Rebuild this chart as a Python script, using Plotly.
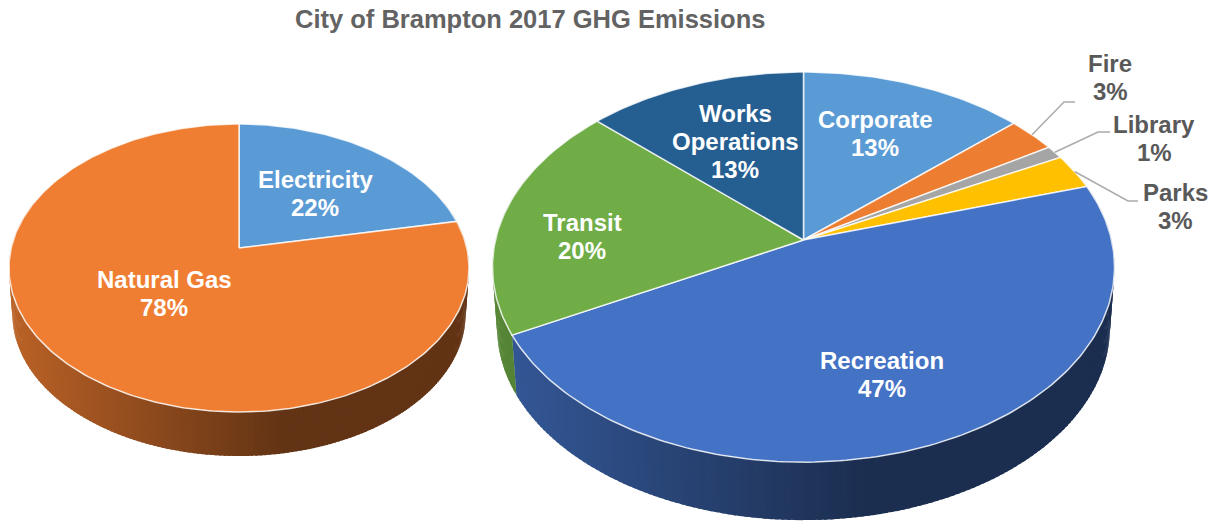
import math
import plotly.graph_objects as go

# Data (shares in %)
title_text = "City of Brampton 2017 GHG Emissions"
left_names = ["Electricity", "Natural Gas"]
left_values = [21.9, 78.1]
left_colors = ["#5B9BD5", "#F07E32"]
right_names = ["Corporate", "Fire", "Library", "Parks", "Recreation", "Transit", "Works<br>Operations"]
right_values = [13.4, 2.9, 1.1, 2.9, 47.0, 19.6, 13.1]
right_colors = ["#5B9BD5", "#ED7D31", "#A5A5A5", "#FFC000", "#4472C4", "#70AD47", "#255E91"]

# Layout of labels (pixel centres in the chart's axis space)
left_label_pos = [(315, 193), (164, 293)]
right_label_pos = [(875, 133), (1110, 77), (1154, 138), (1175, 206), (882, 374), (582, 236), (735, 141)]
right_label_col = ["white", "#595959", "#595959", "#595959", "white", "white", "white"]
leader_elbows = {1: [(1064, 102), (1075, 102)], 2: [(1098, 132), (1110, 132)], 3: [(1128, 201), (1138, 201)]}

K = 0.1389
LEFT = dict(cx=239, cy=248, a=227.8, b=141.2, depth=46.5, shrink=0.985)
RIGHT = dict(cx=803.5, cy=240, a=308.0, b=191.3, depth=61.3, shrink=0.985)
FONT = "Liberation Sans"
LABEL_SIZE = 24
LINE_PITCH = 28
W, H = 1215, 523


def rim(g, th, bottom=False):
    """Perspective projection of a point on the pie's circular rim; th clockwise from top."""
    u, v = math.sin(th), math.cos(th)
    w = 1 + K * v
    s = g["shrink"] if bottom else 1.0
    return g["cx"] + s * g["a"] * u / w, g["cy"] - s * g["b"] * v / w + (g["depth"] if bottom else 0)


def shade(hexcol, x, g):
    r, gg, b = int(hexcol[1:3], 16), int(hexcol[3:5], 16), int(hexcol[5:7], 16)
    rx = g["a"] / math.sqrt(1 - K * K)
    t = (x - (g["cx"] - rx)) / (2 * rx)
    f = 0.78 + (0.41 - 0.78) * min(t / 0.6, 1.0)
    return f"rgb({int(r*f)},{int(gg*f)},{int(b*f)})"


def add_pie(fig, g, names, values, colors):
    total = sum(values)
    edges = [0.0]
    for val in values:
        edges.append(edges[-1] + val / total * 2 * math.pi)
    wall_lo, wall_hi = math.radians(70), math.radians(290)
    step = math.radians(1.0)
    # side wall, in gradient strips; each strip runs under the next one so no seams show
    for i in range(len(values)):
        a0, a1 = max(edges[i], wall_lo), min(edges[i + 1], wall_hi)
        th = a0
        while th < a1 - 1e-9:
            th2 = min(th + step, a1)
            th3 = min(th2 + 0.6 * step, a1)
            p = [rim(g, th), rim(g, th3), rim(g, th3, True), rim(g, th, True), rim(g, th)]
            col = shade(colors[i], (rim(g, th)[0] + rim(g, th2)[0]) / 2, g)
            fig.add_trace(go.Scatter(x=[q[0] for q in p], y=[q[1] for q in p], mode="lines", fill="toself",
                                     fillcolor=col, line=dict(width=0), hoverinfo="skip",
                                     showlegend=False))
            th = th2
    # top faces
    for i, (n, val, c) in enumerate(zip(names, values, colors)):
        n_pts = max(4, int((edges[i + 1] - edges[i]) / math.radians(1)))
        pts = [(g["cx"], g["cy"])]
        for j in range(n_pts + 1):
            pts.append(rim(g, edges[i] + (edges[i + 1] - edges[i]) * j / n_pts))
        pts.append((g["cx"], g["cy"]))
        fig.add_trace(go.Scatter(x=[q[0] for q in pts], y=[q[1] for q in pts], mode="lines", fill="toself",
                                 fillcolor=c, line=dict(color="rgba(255,255,255,0.8)", width=1.5),
                                 name=n.replace("<br>", " "), text=f"{val:.0f}%", hoverinfo="name+text",
                                 showlegend=False))
    return edges


def add_labels(fig, names, values, positions, cols):
    total = sum(values)
    for n, val, (x, y), c in zip(names, values, positions, cols):
        lines = n.split("<br>") + [f"{round(val / total * 100)}%"]
        top = y - LINE_PITCH * (len(lines) - 1) / 2
        for j, line in enumerate(lines):
            fig.add_annotation(x=x, y=top + j * LINE_PITCH, xref="x", yref="y", text=f"<b>{line}</b>",
                               showarrow=False, align="center", font=dict(family=FONT, size=LABEL_SIZE, color=c))


fig = go.Figure()
add_pie(fig, LEFT, left_names, left_values, left_colors)
edges = add_pie(fig, RIGHT, right_names, right_values, right_colors)

for idx, elbow in leader_elbows.items():
    start = rim(RIGHT, (edges[idx] + edges[idx + 1]) / 2)
    pts = [start] + elbow
    fig.add_trace(go.Scatter(x=[q[0] for q in pts], y=[q[1] for q in pts], mode="lines",
                             line=dict(color="#ABABAB", width=1.5), hoverinfo="skip", showlegend=False))

add_labels(fig, left_names, left_values, left_label_pos, ["white", "white"])
add_labels(fig, right_names, right_values, right_label_pos, right_label_col)

fig.add_annotation(x=530, y=19, xref="x", yref="y", text=f"<b>{title_text}</b>", showarrow=False,
                   font=dict(family=FONT, size=25.5, color="#636363"))

fig.update_layout(width=W, height=H, margin=dict(l=0, r=0, t=0, b=0), paper_bgcolor="white", plot_bgcolor="white",
                  xaxis=dict(range=[0, W], visible=False, fixedrange=True),
                  yaxis=dict(range=[H, 0], visible=False, fixedrange=True), showlegend=False)
fig.write_html("out.html", post_script="document.body.style.margin='0';document.body.style.overflow='hidden';",
               config={"displayModeBar": False})
